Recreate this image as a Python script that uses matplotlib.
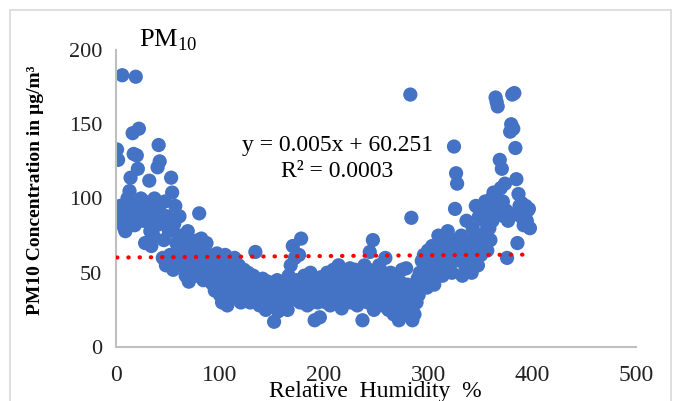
import numpy as np
import matplotlib

matplotlib.use("Agg")
import matplotlib.pyplot as plt
from matplotlib.patches import Rectangle

# PM10 readings in order of observation (x = reading number)
pm10 = [
    133, 126, 84, 95, 92, 183, 88, 80, 78, 93,
    100, 88, 105, 114, 96, 144, 130, 82, 182, 129,
    120, 147, 90, 100, 95, 85, 98, 70, 92, 88,
    96, 112, 78, 68, 86, 75, 100, 95, 82, 121,
    136, 125, 90, 85, 60, 72, 98, 55, 88, 80,
    78, 62, 114, 104, 52, 83, 95, 70, 58, 65,
    88, 75, 68, 60, 55, 72, 48, 62, 78, 44,
    58, 65, 50, 70, 62, 55, 67, 48, 72, 90,
    60, 73, 50, 45, 66, 58, 70, 52, 62, 48,
    55, 43, 60, 50, 38, 52, 63, 45, 58, 35,
    47, 30, 55, 40, 62, 48, 28, 52, 42, 58,
    36, 50, 44, 60, 33, 47, 38, 55, 42, 30,
    48, 35, 52, 40, 45, 32, 50, 38, 30, 43,
    36, 48, 40, 64, 33, 45, 38, 28, 42, 35,
    46, 30, 40, 25, 38, 44, 32, 36, 27, 42,
    35, 17, 40, 30, 45, 24, 38, 33, 42, 28,
    36, 44, 30, 40, 25, 48, 35, 55, 42, 68,
    38, 60, 32, 45, 40, 62, 30, 73, 42, 36,
    48, 33, 40, 28, 44, 36, 50, 30, 42, 38,
    18, 35, 45, 30, 40, 20, 47, 33, 38, 42,
    45, 30, 50, 36, 42, 28, 48, 38, 52, 33,
    40, 46, 30, 55, 38, 44, 26, 48, 35, 42,
    50, 32, 45, 38, 53, 30, 42, 48, 36, 52,
    40, 28, 46, 35, 50, 42, 18, 38, 55, 33,
    45, 30, 52, 64, 40, 35, 72, 25, 48, 38,
    42, 30, 55, 36, 46, 28, 50, 40, 60, 33,
    45, 25, 38, 50, 30, 42, 22, 47, 35, 40,
    28, 18, 44, 36, 52, 30, 40, 24, 53, 42,
    35, 22, 170, 87, 18, 28, 22, 38, 30, 46,
    35, 50, 42, 58, 48, 62, 45, 55, 40, 65,
    52, 60, 45, 68, 55, 42, 58, 63, 50, 75,
    60, 72, 55, 48, 65, 70, 58, 52, 78, 62,
    55, 68, 50, 72, 135, 93, 117, 110, 60, 65,
    58, 75, 48, 62, 70, 52, 85, 60, 66, 55,
    72, 50, 80, 63, 58, 95, 68, 55, 88, 75,
    62, 90, 70, 85, 98, 78, 65, 92, 80, 72,
    100, 85, 104, 95, 168, 165, 162, 90, 126, 107,
    120, 98, 88, 110, 92, 60, 85, 90, 145, 150,
    170, 147, 171, 134, 113, 70, 103, 95, 88, 97,
    90, 82, 88, 95, 85, 92, 93, 80,
]
reading = np.arange(1, len(pm10) + 1)

# linear trendline as reported on the chart
slope, intercept = 0.005, 60.251
r2 = 0.0003

plt.rcParams["font.family"] = ["Liberation Serif", "DejaVu Serif"]
plt.rcParams["mathtext.fontset"] = "custom"
plt.rcParams["mathtext.rm"] = "Liberation Serif"

fig = plt.figure(figsize=(6.79, 4.01), dpi=100)
ax = fig.add_axes([116 / 679, 1 - 347 / 401, (636 - 116) / 679, (347 - 50) / 401])

ax.scatter(reading, pm10, s=105, color="#4472C4", edgecolors="none", zorder=2)

xt = np.array([reading.min(), reading.max()])
ax.plot(xt, slope * xt + intercept, color="#FF0000", lw=3,
        linestyle=(0, (0.1, 2.6)), dash_capstyle="round", zorder=3)

ax.set_xlim(0, 500)
ax.set_ylim(0, 200)
ax.set_xticks([0, 100, 200, 300, 400, 500])
ax.set_yticks([0, 50, 100, 150, 200])
ax.tick_params(length=0, colors="#222222")
ax.tick_params(axis="x", pad=13, labelsize=17)
ax.tick_params(axis="y", pad=10, labelsize=16)
for s in ["top", "right"]:
    ax.spines[s].set_visible(False)
for s in ["left", "bottom"]:
    ax.spines[s].set_color("#BFBFBF")
    ax.spines[s].set_linewidth(1.5)

fig.text(139 / 679, 1 - 40 / 401, r"PM$_\mathrm{10}$", fontsize=19, va="center", ha="left")
fig.text(338 / 679, 1 - 146 / 401, f"y = {slope}x + {intercept}", fontsize=17,
         ha="center", va="center")
fig.text(337 / 679, 1 - 172 / 401, f"R² = {r2}", fontsize=17, ha="center", va="center")
fig.text(36 / 679, 1 - 190 / 401, "PM10 Concentration in µg/m³", rotation=90,
         fontsize=14, fontweight="bold", ha="center", va="center")
fig.text(375 / 679, 1 - 391 / 401, "Relative  Humidity  %", fontsize=17,
         ha="center", va="center")

fig.patches.append(Rectangle((10 / 679, -0.05), 661 / 679, 1.05 - 10 / 401,
                             transform=fig.transFigure, fill=False,
                             edgecolor="#D9D9D9", lw=1.2))

fig.savefig("out.png", dpi=100)
